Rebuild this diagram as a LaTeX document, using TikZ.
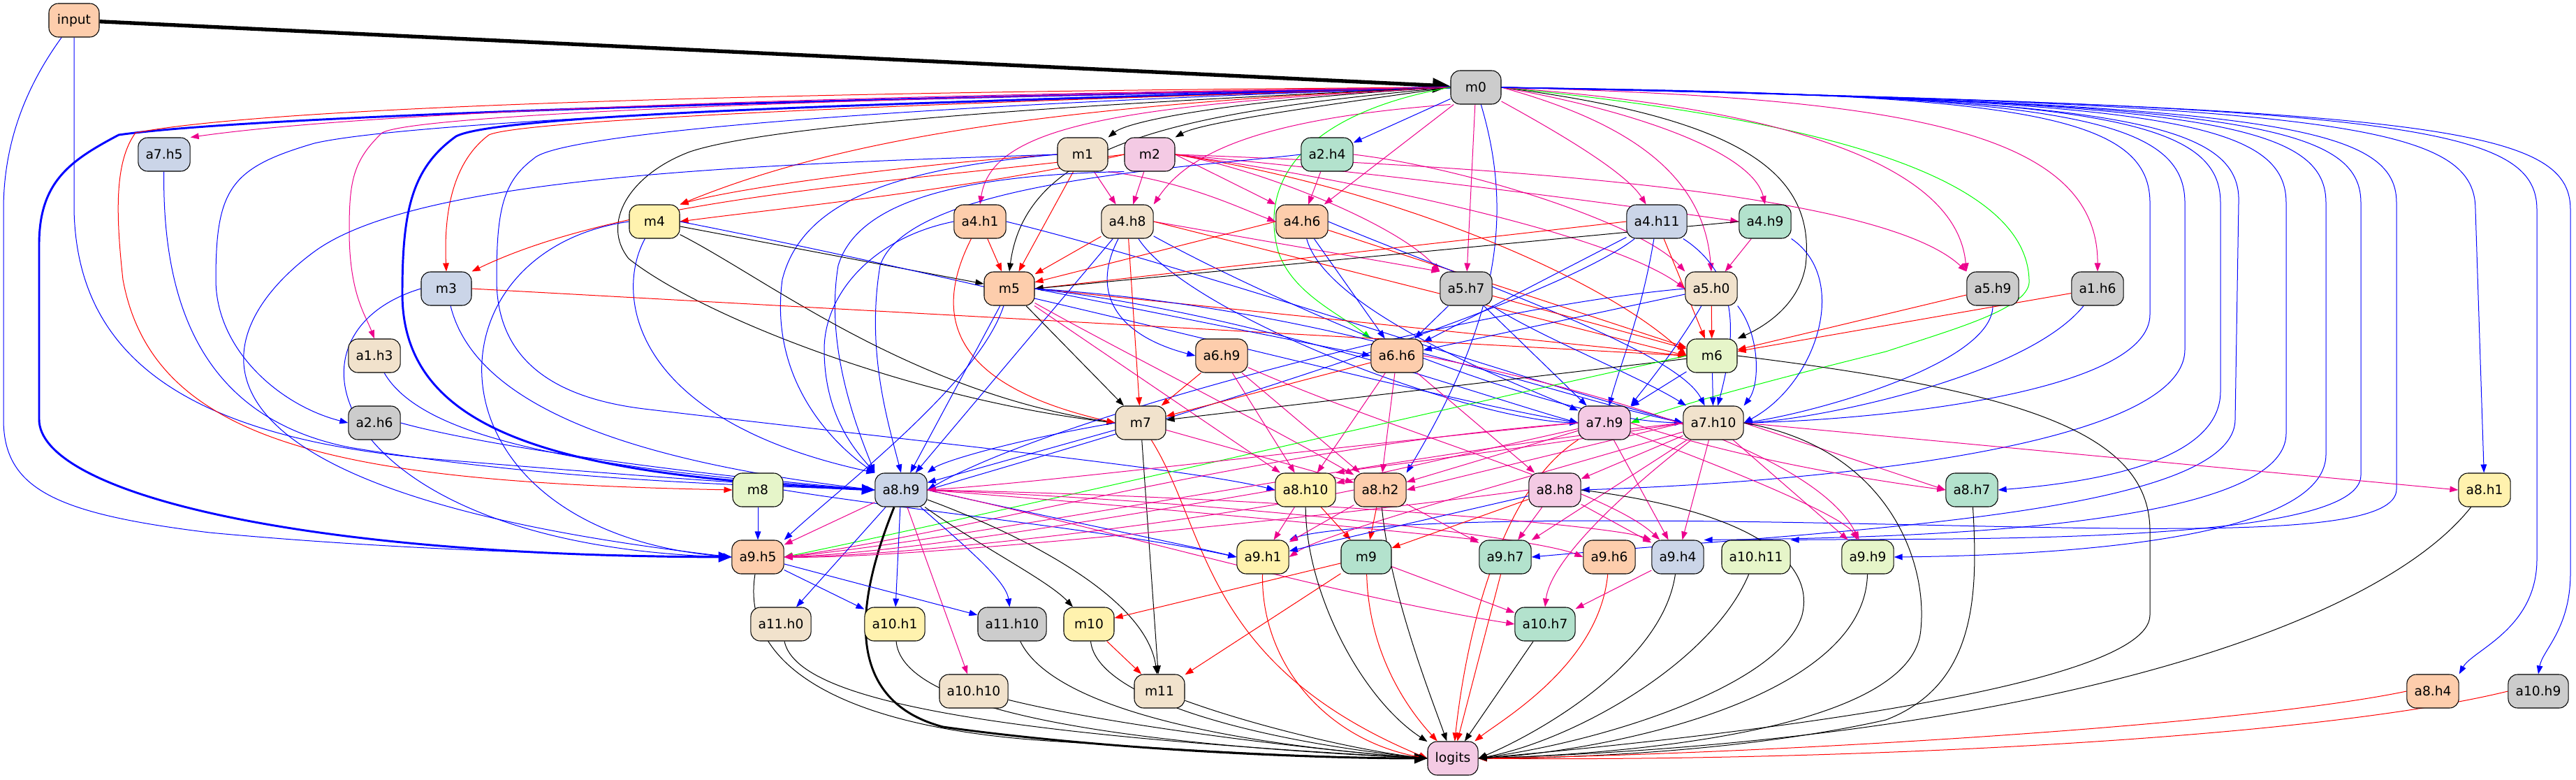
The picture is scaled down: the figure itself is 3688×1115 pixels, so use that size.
\documentclass[tikz,border=0pt]{standalone}
\usepackage{fontspec}
\setmainfont{DejaVu Sans}
\usetikzlibrary{arrows.meta}
\pgfdeclarelayer{bg}
\pgfsetlayers{bg,main}
\definecolor{cOr}{HTML}{FDCDAC}
\definecolor{cGy}{HTML}{CCCCCC}
\definecolor{cBl}{HTML}{CBD5E8}
\definecolor{cPk}{HTML}{F4CAE4}
\definecolor{cLg}{HTML}{E6F5C9}
\definecolor{cYe}{HTML}{FFF2AE}
\definecolor{cBe}{HTML}{F1E2CC}
\definecolor{cGr}{HTML}{B3E2CD}
\begin{document}
\begin{tikzpicture}[x=0.75pt,y=-0.75pt,
  nd/.style={draw=black,line width=0.8pt,rounded corners=10pt,minimum width=54pt,minimum height=36pt,inner xsep=8pt,inner ysep=0pt,font=\fontsize{14pt}{16pt}\selectfont},
  e/.style={line width=0.75pt,-{Triangle[length=9pt,width=6.5pt]}},
  eB/.style={e,color=blue},
  eR/.style={e,color=red},
  eM/.style={e,color=magenta},
  eG/.style={e,color=green},
  eK/.style={e,color=black},
  thk/.style={line width=2.2pt,-{Triangle[length=14pt,width=11pt]}}]
\useasboundingbox (0,0) rectangle (3688,1115);
% rank 0-1
\node[nd,fill=cOr] (input) at (106,29) {input};
\node[nd,fill=cGy] (m0) at (2113,125) {m0};
% rank 2
\node[nd,fill=cBl] (a7h5) at (235,221) {a7.h5};
\node[nd,fill=cBe] (m1) at (1550,221) {m1};
\node[nd,fill=cPk] (m2) at (1646,221) {m2};
\node[nd,fill=cGr] (a2h4) at (1900,221) {a2.h4};
% rank 3
\node[nd,fill=cYe] (m4) at (937,317) {m4};
\node[nd,fill=cOr] (a4h1) at (1403,317) {a4.h1};
\node[nd,fill=cBe] (a4h8) at (1614,317) {a4.h8};
\node[nd,fill=cOr] (a4h6) at (1864,317) {a4.h6};
\node[nd,fill=cBl] (a4h11) at (2372,317) {a4.h11};
\node[nd,fill=cGr] (a4h9) at (2527,317) {a4.h9};
% rank 4
\node[nd,fill=cBl] (m3) at (639,413) {m3};
\node[nd,fill=cOr] (m5) at (1445,413) {m5};
\node[nd,fill=cGy] (a5h7) at (2099,413) {a5.h7};
\node[nd,fill=cBe] (a5h0) at (2450,413) {a5.h0};
\node[nd,fill=cGy] (a5h9) at (2853,413) {a5.h9};
\node[nd,fill=cGy] (a1h6) at (3003,413) {a1.h6};
% rank 5
\node[nd,fill=cBe] (a1h3) at (536,509) {a1.h3};
\node[nd,fill=cOr] (a6h9) at (1749,509) {a6.h9};
\node[nd,fill=cOr] (a6h6) at (2000,509) {a6.h6};
\node[nd,fill=cLg] (m6) at (2451,509) {m6};
% rank 6
\node[nd,fill=cGy] (a2h6) at (536,605) {a2.h6};
\node[nd,fill=cBe] (m7) at (1633,605) {m7};
\node[nd,fill=cPk] (a7h9) at (2297,605) {a7.h9};
\node[nd,fill=cBe] (a7h10) at (2453,605) {a7.h10};
% rank 7
\node[nd,fill=cLg] (m8) at (1085,701) {m8};
\node[nd,fill=cBl] (a8h9) at (1290,701) {a8.h9};
\node[nd,fill=cYe] (a8h10) at (1869,701) {a8.h10};
\node[nd,fill=cOr] (a8h2) at (1976,701) {a8.h2};
\node[nd,fill=cPk] (a8h8) at (2226,701) {a8.h8};
\node[nd,fill=cGr] (a8h7) at (2823,701) {a8.h7};
\node[nd,fill=cYe] (a8h1) at (3557,701) {a8.h1};
% rank 8
\node[nd,fill=cOr] (a9h5) at (1085,797) {a9.h5};
\node[nd,fill=cYe] (a9h1) at (1808,797) {a9.h1};
\node[nd,fill=cGr] (m9) at (1956,797) {m9};
\node[nd,fill=cGr] (a9h7) at (2155,797) {a9.h7};
\node[nd,fill=cOr] (a9h6) at (2304,797) {a9.h6};
\node[nd,fill=cBl] (a9h4) at (2402,797) {a9.h4};
\node[nd,fill=cLg] (a10h11) at (2514,797) {a10.h11};
\node[nd,fill=cLg] (a9h9) at (2674,797) {a9.h9};
% rank 9
\node[nd,fill=cBe] (a11h0) at (1118,893) {a11.h0};
\node[nd,fill=cYe] (a10h1) at (1281,893) {a10.h1};
\node[nd,fill=cGy] (a11h10) at (1449,893) {a11.h10};
\node[nd,fill=cYe] (m10) at (1559,893) {m10};
\node[nd,fill=cGr] (a10h7) at (2212,893) {a10.h7};
% rank 10
\node[nd,fill=cBe] (a10h10) at (1394,989) {a10.h10};
\node[nd,fill=cBe] (m11) at (1660,989) {m11};
\node[nd,fill=cOr] (a8h4) at (3483,989) {a8.h4};
\node[nd,fill=cGy] (a10h9) at (3634,989) {a10.h9};
% rank 11
\node[nd,fill=cPk] (logits) at (2080,1085) {logits};

\begin{pgfonlayer}{bg}
% ---------- input
\draw[eK,line width=4pt,-{Triangle[length=19pt,width=15pt]}] (input) -- (m0);
\draw[eB] (input) .. controls (40,120) and (5,200) .. (5,300) -- (5,600) .. controls (5,700) and (80,735) .. (300,762) .. controls (600,790) and (900,795) .. (a9h5.west);
\draw[eB] (input) -- (106,300) .. controls (110,500) and (250,620) .. (600,655) .. controls (900,680) and (1100,695) .. (a8h9.west);
% ---------- m0 left routes
\draw[eB,thk] (m0.west) .. controls (1500,135) and (400,160) .. (170,193) .. controls (100,230) and (56,260) .. (56,350) -- (56,600) .. controls (56,700) and (400,795) .. (a9h5.west);
\draw[eB,thk] (m0.west) .. controls (1400,145) and (720,160) .. (653,195) .. controls (590,240) and (576,300) .. (576,420) .. controls (576,620) and (800,680) .. (a8h9.west);
\draw[eR] (m0.west) .. controls (1200,130) and (400,150) .. (194,190) .. controls (165,230) and (165,300) .. (176,400) .. controls (220,640) and (500,690) .. (m8.west);
\draw[eM] (m0.west) .. controls (1500,132) and (600,150) .. (a7h5.north east);
\draw[eB] (m0.west) .. controls (1400,140) and (600,170) .. (450,205) .. controls (330,240) and (309,270) .. (309,400) .. controls (309,500) and (400,580) .. (a2h6.west);
\draw[eM] (m0.west) .. controls (1400,135) and (600,160) .. (547,190) .. controls (505,230) and (500,260) .. (500,330) .. controls (500,420) and (523,450) .. (a1h3.north);
\draw[eR] (m0.west) .. controls (1400,145) and (750,170) .. (700,193) .. controls (650,230) and (635,300) .. (m3.north);
\draw[eB] (m0.west) .. controls (1300,150) and (800,190) .. (764,227) .. controls (720,260) and (711,300) .. (711,400) .. controls (711,520) and (800,570) .. (922,585) .. controls (1300,630) and (1700,670) .. (a8h10.west);
\draw[eR] (m0.west) .. controls (1500,150) and (1200,200) .. (m4.north east);
\draw[eK] (m0.west) .. controls (1500,150) and (1100,180) .. (988,217) .. controls (900,250) and (860,320) .. (900,370) .. controls (1000,450) and (1300,570) .. (m7.west);
\draw[eK] (m0.west) .. controls (1700,160) and (1470,200) .. (m5.north);
\draw[eK] (m0.west) .. controls (1800,140) and (1620,170) .. (m1.north east);
\draw[eK] (m0.west) .. controls (1900,150) and (1720,175) .. (m2.north east);
\draw[eM] (m0.west) .. controls (1600,150) and (1420,180) .. (a4h1.north);
\draw[eM] (m0.south west) .. controls (1800,170) and (1700,220) .. (a4h8.north east);
\draw[eB] (m0) -- (a2h4);
\draw[eM] (m0) -- (a4h6);
\draw[eM] (m0) .. controls (2250,200) and (2330,250) .. (a4h11);
\draw[eM] (m0.east) .. controls (2350,160) and (2510,220) .. (a4h9.north);
\draw[eM] (m0) -- (a5h7);
\draw[eB] (m0) .. controls (2165,300) and (2150,450) .. (a8h2.north east);
\draw[eK] (m0.east) .. controls (2500,170) and (2600,250) .. (2585,380) .. controls (2575,440) and (2520,470) .. (m6.north east);
\draw[eG] (m0.west) .. controls (1880,160) and (1800,250) .. (1830,360) .. controls (1850,420) and (1920,450) .. (a6h6.north west);
\draw[eG] (m0.east) .. controls (2600,170) and (2900,250) .. (2905,400) .. controls (2910,440) and (2800,470) .. (2700,503) .. controls (2550,540) and (2400,580) .. (a7h9.east);
\draw[eM] (m0.east) .. controls (2350,180) and (2440,260) .. (a5h0.north);
\draw[eM] (m0.east) .. controls (2500,150) and (2800,220) .. (a5h9.north west);
\draw[eM] (m0.east) .. controls (2700,140) and (3004,180) .. (a1h6.north);
% ---------- m0 right routes (blue)
\draw[eB] (m0.east) .. controls (2878,134) and (3078,160) .. (3078,290) -- (3078,450) .. controls (3078,560) and (2700,600) .. (a7h10.east);
\draw[eB] (m0.east) .. controls (2928,136) and (3128,162) .. (3128,290) -- (3128,500) .. controls (3128,640) and (2600,690) .. (a8h8.east);
\draw[eB] (m0.east) .. controls (2979,138) and (3179,164) .. (3179,290) -- (3179,560) .. controls (3179,660) and (3000,690) .. (a8h7.east);
\draw[eB] (m0.east) .. controls (3000,140) and (3210,166) .. (3205,290) -- (3200,600) .. controls (3200,740) and (2600,760) .. (a9h7.east);
\draw[eB] (m0.east) .. controls (3073,142) and (3273,168) .. (3273,290) -- (3273,620) .. controls (3273,760) and (2700,770) .. (a9h4.north east);
\draw[eB] (m0.east) .. controls (3130,144) and (3330,170) .. (3330,290) -- (3330,650) .. controls (3330,780) and (2900,795) .. (a9h9.east);
\draw[eB] (m0.east) .. controls (3180,146) and (3380,172) .. (3380,290) -- (3380,680) .. controls (3380,780) and (2800,770) .. (a10h11.north east);
\draw[eB] (m0.east) .. controls (3231,148) and (3431,174) .. (3431,290) -- (3431,700) .. controls (3431,790) and (2900,745) .. (2300,745) .. controls (2000,745) and (1880,760) .. (a9h1.north east);
\draw[eB] (m0.east) .. controls (3344,150) and (3544,176) .. (3544,300) -- (a8h1);
\draw[eB] (m0.east) .. controls (3432,152) and (3632,178) .. (3632,300) -- (3632,800) .. controls (3632,900) and (3540,930) .. (a8h4.north east);
\draw[eB] (m0.east) .. controls (3480,154) and (3680,180) .. (3680,300) -- (3680,820) .. controls (3680,900) and (3640,930) .. (a10h9.north);
% ---------- m1
\draw[eR] (m1.west) .. controls (1300,235) and (1050,270) .. (m4.north east);
\draw[eM] (m1) -- (a4h8);
\draw[eR] (m1) -- (m5);
\draw[eM] (m1.south east) .. controls (1700,260) and (1780,300) .. (a4h6.west);
\draw[eB] (m1.west) .. controls (1100,235) and (600,250) .. (450,360) .. controls (300,470) and (200,700) .. (a9h5.west);
\draw[eB] (m1.west) .. controls (1300,240) and (1150,280) .. (1120,400) .. controls (1100,550) and (1200,640) .. (a8h9.north west);
% ---------- m2
\draw[eR] (m2.west) .. controls (1400,270) and (1100,300) .. (m4.east);
\draw[eR] (m2.west) .. controls (1300,260) and (900,280) .. (m3.north east);
\draw[eM] (m2) -- (a4h8);
\draw[eM] (m2.east) -- (a4h6.north west);
\draw[eM] (m2.east) .. controls (1800,240) and (2000,320) .. (a5h7.north west);
\draw[eM] (m2.east) .. controls (1900,250) and (2300,330) .. (a5h0.west);
\draw[eM] (m2.east) .. controls (2200,240) and (2700,280) .. (a5h9.north west);
\draw[eM] (m2.east) .. controls (2000,250) and (2300,290) .. (a4h9.west);
\draw[eR] (m2.east) .. controls (2000,270) and (2300,400) .. (m6.west);
\draw[eB] (m2.south west) .. controls (1400,250) and (1230,280) .. (1200,380) .. controls (1180,500) and (1230,620) .. (a8h9.north west);
% ---------- a2.h4
\draw[eM] (a2h4) -- (a4h6);
\draw[eM] (a2h4.east) .. controls (2100,240) and (2350,320) .. (a5h0.north west);
\draw[eB] (a2h4.west) .. controls (1700,240) and (1300,260) .. (1260,380) .. controls (1240,500) and (1270,600) .. (a8h9.north);
% ---------- m4
\draw[eK] (m4) -- (m5);
\draw[eK] (m4) .. controls (1100,400) and (1300,560) .. (m7.west);
\draw[eB] (m4) .. controls (880,420) and (900,600) .. (a8h9.north west);
\draw[eB] (m4.west) .. controls (600,360) and (600,760) .. (a9h5.west);
\draw[eB] (m4.east) .. controls (1500,420) and (2000,560) .. (a7h9.west);
% ---------- a4.h1
\draw[eR] (a4h1) -- (m5);
\draw[eB] (a4h1.west) .. controls (1250,340) and (1180,420) .. (1180,500) .. controls (1180,600) and (1230,650) .. (a8h9.north west);
\draw[eB] (a4h1.east) .. controls (1700,380) and (2200,550) .. (a7h10.west);
\draw[eR] (a4h1) .. controls (1320,480) and (1400,560) .. (m7.west);
% ---------- a4.h8
\draw[eR] (a4h8) -- (m5);
\draw[eM] (a4h8.east) -- (a5h7.north west);
\draw[eR] (a4h8.east) -- (m6.west);
\draw[eB] (a4h8) .. controls (1560,420) and (1600,480) .. (a6h9.west);
\draw[eB] (a4h8) -- (a8h9);
\draw[eB] (a4h8) .. controls (1700,450) and (2100,600) .. (a7h9.west);
\draw[eB] (a4h8) .. controls (1800,420) and (2200,600) .. (a7h10.west);
\draw[eR] (a4h8) -- (m7);
% ---------- a4.h6
\draw[eR] (a4h6.west) -- (m5);
\draw[eR] (a4h6) -- (m6);
\draw[eB] (a4h6) -- (a6h6);
\draw[eB] (a4h6) .. controls (1900,450) and (2200,560) .. (a7h9);
\draw[eB] (a4h6.east) .. controls (2100,400) and (2400,500) .. (a7h10);
% ---------- a4.h11
\draw[eR] (a4h11.west) -- (m5.east);
\draw[eB] (a4h11) .. controls (2200,450) and (1500,650) .. (a8h9.east);
\draw[eR] (a4h11) -- (m6);
\draw[eB] (a4h11) .. controls (2500,400) and (2480,500) .. (a7h10);
\draw[eB] (a4h11) -- (a6h6);
\draw[eB] (a4h11) .. controls (2350,450) and (2320,520) .. (a7h9);
% ---------- a4.h9
\draw[eK] (a4h9.west) -- (m5.east);
\draw[eM] (a4h9) -- (a5h0);
\draw[eB] (a4h9.south east) .. controls (2650,400) and (2600,550) .. (a7h10.east);
% ---------- m3
\draw[eR] (m3.east) -- (m6.west);
\draw[eB] (m3) .. controls (680,580) and (900,660) .. (a8h9.west);
\draw[eB] (m3.west) .. controls (380,480) and (480,780) .. (a9h5.west);
% ---------- m5
\draw[eK] (m5) -- (m7);
\draw[eR] (m5.east) -- (m6.west);
\draw[eB] (m5.east) -- (a6h6.west);
\draw[eB] (m5.east) .. controls (1800,450) and (2100,560) .. (a7h9.west);
\draw[eB] (m5.east) .. controls (1900,440) and (2200,560) .. (a7h10.west);
\draw[eB] (m5) -- (a8h9);
\draw[eB] (m5) .. controls (1400,550) and (1200,700) .. (a9h5.north east);
\draw[eM] (m5) -- (a8h10);
\draw[eM] (m5) .. controls (1600,500) and (1800,600) .. (a8h2);
% ---------- a5.h7
\draw[eB] (a5h7) -- (a6h6);
\draw[eR] (a5h7) -- (m6);
\draw[eB] (a5h7) -- (a7h9);
\draw[eB] (a5h7) .. controls (2200,480) and (2350,540) .. (a7h10);
% ---------- a5.h0
\draw[eR] (a5h0) -- (m6);
\draw[eB] (a5h0) -- (a6h6);
\draw[eB] (a5h0.south east) .. controls (2520,480) and (2520,550) .. (a7h10.north east);
\draw[eB] (a5h0) .. controls (2400,500) and (2350,560) .. (a7h9.north east);
\draw[eB] (a5h0.west) .. controls (2100,440) and (1500,600) .. (a8h9.east);
% ---------- a5.h9, a1.h6
\draw[eR] (a5h9) -- (m6);
\draw[eB] (a5h9) .. controls (2853,520) and (2600,590) .. (a7h10.east);
\draw[eR] (a1h6) -- (m6);
\draw[eB] (a1h6) .. controls (2900,540) and (2600,600) .. (a7h10.east);
% ---------- rank 5/6 left
\draw[eB] (a1h3) .. controls (600,620) and (800,670) .. (a8h9.west);
\draw[eB] (a2h6.east) .. controls (700,640) and (1000,680) .. (a8h9.west);
\draw[eB] (a7h5) .. controls (232,450) and (300,600) .. (500,640) .. controls (800,690) and (1100,695) .. (a8h9.west);
% ---------- a6.h9
\draw[eR] (a6h9) -- (m7);
\draw[eM] (a6h9) -- (a8h10);
\draw[eM] (a6h9) -- (a8h2);
\draw[eM] (a6h9) .. controls (2000,620) and (2300,700) .. (a9h4);
% ---------- a6.h6
\draw[eR] (a6h6) -- (m7);
\draw[eM] (a6h6) -- (a8h10);
\draw[eM] (a6h6) -- (a8h2);
\draw[eM] (a6h6) -- (a8h8);
\draw[eM] (a6h6.east) .. controls (2300,560) and (2600,650) .. (a9h9);
% ---------- m6
\draw[eK] (m6) -- (m7);
\draw[eB] (m6) -- (a7h10);
\draw[eB] (m6) -- (a7h9);
\draw[eG] (m6.west) .. controls (2000,600) and (1400,740) .. (a9h5.east);
\draw[eK] (m6.east) .. controls (2900,560) and (3078,620) .. (3078,760) -- (3078,880) .. controls (3078,990) and (2400,1060) .. (logits.east);
% ---------- m7
\draw[eB] (m7) -- (a8h9);
\draw[eB] (m7.west) .. controls (1450,630) and (1350,660) .. (a8h9.north east);
\draw[eR] (m7) .. controls (1730,760) and (1720,950) .. (logits.west);
\draw[eK] (m7) -- (m11);
\draw[eM] (m7) -- (a8h2);
% ---------- a7.h9
\draw[eM] (a7h9) -- (a8h10);
\draw[eM] (a7h9) -- (a8h2);
\draw[eM] (a7h9.west) .. controls (1800,640) and (1400,760) .. (a9h5.east);
\draw[eM] (a7h9.west) .. controls (1900,640) and (1500,690) .. (a8h9.east);
\draw[eR] (a7h9) .. controls (2150,700) and (2100,900) .. (logits);
\draw[eM] (a7h9) -- (a9h4);
\draw[eM] (a7h9) .. controls (2500,680) and (2640,740) .. (a9h9);
\draw[eM] (a7h9.east) .. controls (2500,660) and (2700,690) .. (a8h7.west);
% ---------- a7.h10
\draw[eM] (a7h10.west) .. controls (2200,640) and (1950,670) .. (a8h10.north east);
\draw[eM] (a7h10.west) -- (a8h2.east);
\draw[eM] (a7h10) -- (a8h8);
\draw[eM] (a7h10.east) -- (a8h7.west);
\draw[eM] (a7h10.east) -- (a8h1.west);
\draw[eM] (a7h10.west) .. controls (2000,650) and (1400,770) .. (a9h5.east);
\draw[eM] (a7h10) .. controls (2200,680) and (1900,760) .. (a9h1.east);
\draw[eM] (a7h10) -- (a9h7);
\draw[eM] (a7h10) -- (a9h4);
\draw[eM] (a7h10) -- (a9h9);
\draw[eM] (a7h10) .. controls (2330,700) and (2220,800) .. (a10h7.north);
\draw[eK] (a7h10.east) .. controls (2700,640) and (2760,800) .. (2750,900) .. controls (2740,1050) and (2300,1080) .. (logits.east);
% ---------- m8
\draw[eB] (m8) -- (a9h5);
\draw[eB] (m8.east) .. controls (1300,730) and (1600,760) .. (a9h1.west);
% ---------- a8.h9
\draw[eK,thk] (a8h9) .. controls (1230,850) and (1200,1000) .. (1350,1040) .. controls (1600,1075) and (1900,1085) .. (logits.west);
\draw[eK] (a8h9) .. controls (1400,780) and (1500,830) .. (m10);
\draw[eK] (a8h9) .. controls (1450,760) and (1640,850) .. (m11);
\draw[eB] (a8h9) -- (a11h0);
\draw[eB] (a8h9) -- (a10h1);
\draw[eB] (a8h9) .. controls (1380,780) and (1440,830) .. (a11h10);
\draw[eM] (a8h9) -- (a10h10);
\draw[eB] (a8h9.east) .. controls (1500,740) and (1700,780) .. (a9h1.west);
\draw[eM] (a8h9.east) .. controls (1700,730) and (2000,760) .. (a9h7.north west);
\draw[eM] (a8h9.east) .. controls (1800,720) and (2200,770) .. (a9h6.west);
\draw[eM] (a8h9.east) .. controls (1800,710) and (2300,750) .. (a9h4.north west);
\draw[eM] (a8h9.east) .. controls (1600,760) and (1900,850) .. (a10h7.west);
\draw[eM] (a8h9) -- (a9h5);
% ---------- a8.h10, a8.h2, a8.h8
\draw[eM] (a8h10.west) .. controls (1600,740) and (1300,790) .. (a9h5.east);
\draw[eM] (a8h10) -- (a9h1);
\draw[eR] (a8h10) -- (m9);
\draw[eK] (a8h10) .. controls (1870,850) and (1950,1000) .. (logits);
\draw[eM] (a8h2.west) .. controls (1700,750) and (1300,795) .. (a9h5.east);
\draw[eM] (a8h2) -- (a9h1);
\draw[eR] (a8h2) -- (m9);
\draw[eK] (a8h2) .. controls (1990,850) and (2050,1000) .. (logits);
\draw[eM] (a8h2) -- (a9h7);
\draw[eM] (a8h8.west) .. controls (1900,740) and (1300,800) .. (a9h5.east);
\draw[eR] (a8h8) -- (m9);
\draw[eB] (a8h8) -- (a9h1);
\draw[eM] (a8h8) -- (a9h7);
\draw[eM] (a8h8) -- (a9h4);
\draw[eK] (a8h8.east) .. controls (2500,730) and (2600,800) .. (2580,880) .. controls (2550,980) and (2300,1060) .. (logits.east);
% ---------- a8.h7, a8.h1, a8.h4, a10.h9
\draw[eK] (a8h7) .. controls (2832,850) and (2830,980) .. (2700,1030) .. controls (2500,1075) and (2250,1085) .. (logits.east);
\draw[eK] (a8h1) .. controls (3400,900) and (2900,1060) .. (logits.east);
\draw[eR] (a8h4.west) .. controls (3200,1040) and (2500,1080) .. (logits.east);
\draw[eR] (a10h9.west) .. controls (3300,1060) and (2600,1090) .. (logits.east);
% ---------- rank 8
\draw[eB] (a9h5) -- (a10h1);
\draw[eB] (a9h5) -- (a11h10);
\draw[eK] (a9h5) .. controls (1060,950) and (1200,1040) .. (1500,1060) .. controls (1800,1080) and (1950,1085) .. (logits.west);
\draw[eR] (a9h1) .. controls (1805,950) and (1900,1060) .. (logits.west);
\draw[eR] (m9) -- (m10);
\draw[eR] (m9) -- (m11);
\draw[eR] (m9) .. controls (1960,950) and (2030,1030) .. (logits);
\draw[eM] (m9) -- (a10h7);
\draw[eR] (a9h7) -- (logits);
\draw[eR] (a9h6) .. controls (2290,950) and (2150,1030) .. (logits);
\draw[eM] (a9h4) -- (a10h7);
\draw[eK] (a9h4) .. controls (2380,950) and (2200,1050) .. (logits.east);
\draw[eK] (a10h11) .. controls (2450,950) and (2250,1060) .. (logits.east);
\draw[eK] (a9h9) .. controls (2670,1000) and (2300,1075) .. (logits.east);
% ---------- rank 9-10
\draw[eK] (a11h0) .. controls (1140,1000) and (1400,1050) .. (logits.west);
\draw[eK] (a10h1) .. controls (1290,1000) and (1500,1060) .. (logits.west);
\draw[eK] (a11h10) .. controls (1500,1000) and (1700,1060) .. (logits.west);
\draw[eK] (a10h10) .. controls (1600,1040) and (1900,1075) .. (logits.west);
\draw[eK] (m10) .. controls (1570,1000) and (1800,1060) .. (logits.west);
\draw[eR] (m10) -- (m11);
\draw[eK] (m11) .. controls (1800,1040) and (1950,1075) .. (logits.west);
\draw[eK] (a10h7) -- (logits);
\end{pgfonlayer}
\end{tikzpicture}
\end{document}
